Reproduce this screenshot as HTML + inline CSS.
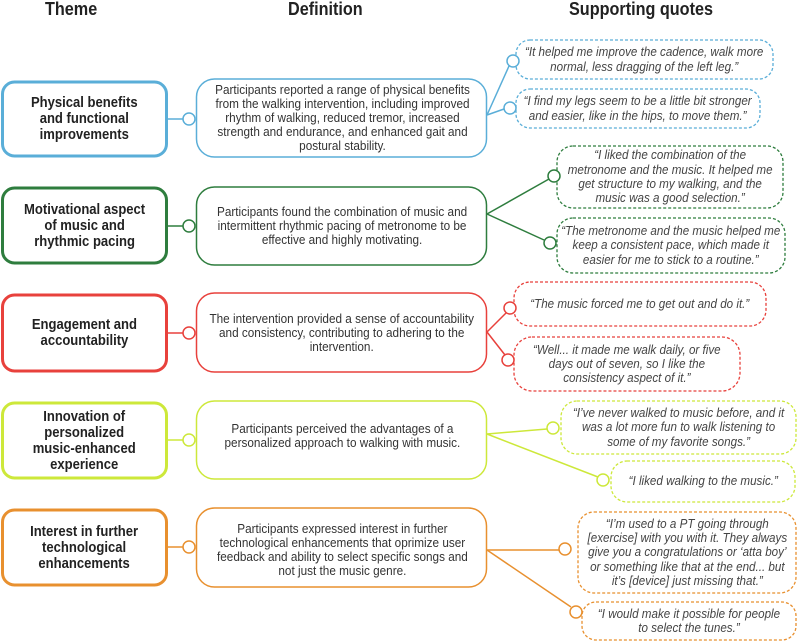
<!DOCTYPE html>
<html><head><meta charset="utf-8"><style>
html,body{margin:0;padding:0;background:#fff;}
body{width:800px;height:642px;position:relative;overflow:hidden;font-family:"Liberation Sans",Arial,sans-serif;}
.b{position:absolute;display:flex;align-items:center;justify-content:center;text-align:center;box-sizing:border-box;}
.b span{display:inline-block;white-space:nowrap;}
.t span{font-weight:bold;font-size:15px;line-height:16px;color:#222;transform:scaleX(.87);}
.d span{font-size:12.5px;line-height:14px;color:#333;transform:scaleX(.94);}
.q span{font-size:12.5px;line-height:14.3px;color:#444;font-style:italic;transform:scaleX(.93);}
.h{position:absolute;font-weight:bold;font-size:18px;color:#222;top:-1px;transform:scaleX(.9);transform-origin:left;}
</style></head><body>
<svg width="800" height="642" style="position:absolute;left:0;top:0">
<g fill="#fff">
<g stroke="#5aaed8">
<rect x="2.5" y="82" width="164" height="74" rx="12" stroke-width="3"/>
<rect x="196.5" y="79" width="290" height="78" rx="18" stroke-width="1.5"/>
<line x1="168" y1="119" x2="183" y2="119" stroke-width="1.5"/>
<polyline points="487,115 509,66" fill="none" stroke-width="1.5"/>
<polyline points="487,115 504,109" fill="none" stroke-width="1.5"/>
<rect x="516" y="40" width="257" height="39" rx="14" stroke-width="1.3" stroke-dasharray="3,2"/>
<rect x="516" y="89" width="244" height="39" rx="14" stroke-width="1.3" stroke-dasharray="3,2"/>
<circle cx="189" cy="119" r="6" stroke-width="1.5"/>
<circle cx="513" cy="61" r="6" stroke-width="1.5"/>
<circle cx="510" cy="108" r="6" stroke-width="1.5"/>
</g>
<g stroke="#2e7d3e">
<rect x="2.5" y="188" width="164" height="75" rx="12" stroke-width="3"/>
<rect x="196.5" y="187" width="290" height="78" rx="18" stroke-width="1.5"/>
<line x1="168" y1="226" x2="183" y2="226" stroke-width="1.5"/>
<line x1="487" y1="214" x2="549" y2="179" stroke-width="1.5"/>
<line x1="487" y1="214" x2="544" y2="240" stroke-width="1.5"/>
<rect x="557" y="146" width="226" height="62" rx="16" stroke-width="1.3" stroke-dasharray="3,2"/>
<rect x="557" y="218" width="228" height="55" rx="16" stroke-width="1.3" stroke-dasharray="3,2"/>
<circle cx="189" cy="226" r="6" stroke-width="1.5"/>
<circle cx="554" cy="176" r="6" stroke-width="1.5"/>
<circle cx="550" cy="243" r="6" stroke-width="1.5"/>
</g>
<g stroke="#e8413c">
<rect x="2.5" y="295" width="164" height="76" rx="12" stroke-width="3"/>
<rect x="196.5" y="293" width="290" height="79" rx="18" stroke-width="1.5"/>
<line x1="168" y1="333" x2="183" y2="333" stroke-width="1.5"/>
<line x1="487" y1="332" x2="506" y2="313" stroke-width="1.5"/>
<line x1="487" y1="332" x2="505" y2="355" stroke-width="1.5"/>
<rect x="514" y="282" width="252" height="44" rx="16" stroke-width="1.3" stroke-dasharray="3,2"/>
<rect x="514" y="337" width="226" height="54" rx="18" stroke-width="1.3" stroke-dasharray="3,2"/>
<circle cx="189" cy="333" r="6" stroke-width="1.5"/>
<circle cx="510" cy="308" r="6" stroke-width="1.5"/>
<circle cx="508" cy="360" r="6" stroke-width="1.5"/>
</g>
<g stroke="#cde83a">
<rect x="2.5" y="403" width="164" height="75" rx="12" stroke-width="3"/>
<rect x="196.5" y="401" width="290" height="78" rx="18" stroke-width="1.5"/>
<line x1="168" y1="440" x2="183" y2="440" stroke-width="1.5"/>
<line x1="487" y1="434" x2="547" y2="429" stroke-width="1.5"/>
<line x1="487" y1="434" x2="598" y2="477" stroke-width="1.5"/>
<rect x="561" y="401" width="235" height="53" rx="16" stroke-width="1.3" stroke-dasharray="3,2"/>
<rect x="611" y="461" width="184" height="41" rx="16" stroke-width="1.3" stroke-dasharray="3,2"/>
<circle cx="189" cy="440" r="6" stroke-width="1.5"/>
<circle cx="553" cy="428" r="6" stroke-width="1.5"/>
<circle cx="603" cy="480" r="6" stroke-width="1.5"/>
</g>
<g stroke="#e8902f">
<rect x="2.5" y="510" width="164" height="75" rx="12" stroke-width="3"/>
<rect x="196.5" y="508" width="290" height="79" rx="18" stroke-width="1.5"/>
<line x1="168" y1="547" x2="183" y2="547" stroke-width="1.5"/>
<line x1="487" y1="550" x2="559" y2="550" stroke-width="1.5"/>
<line x1="487" y1="550" x2="571" y2="607" stroke-width="1.5"/>
<rect x="578" y="512" width="218" height="81" rx="16" stroke-width="1.3" stroke-dasharray="3,2"/>
<rect x="582" y="602" width="214" height="38" rx="14" stroke-width="1.3" stroke-dasharray="3,2"/>
<circle cx="189" cy="547" r="6" stroke-width="1.5"/>
<circle cx="565" cy="549" r="6" stroke-width="1.5"/>
<circle cx="576" cy="612" r="6" stroke-width="1.5"/>
</g>
</g>
</svg>
<div class="h" style="left:45px">Theme</div>
<div class="h" style="left:288px">Definition</div>
<div class="h" style="left:569px">Supporting quotes</div>

<div class="b t" style="left:2px;top:82px;width:165px;height:74px"><span>Physical benefits<br>and functional<br>improvements</span></div>
<div class="b t" style="left:2px;top:188px;width:165px;height:75px"><span>Motivational aspect<br>of music and<br>rhythmic pacing</span></div>
<div class="b t" style="left:2px;top:295px;width:165px;height:76px"><span>Engagement and<br>accountability</span></div>
<div class="b t" style="left:2px;top:403px;width:165px;height:75px"><span>Innovation of<br>personalized<br>music-enhanced<br>experience</span></div>
<div class="b t" style="left:2px;top:510px;width:165px;height:75px"><span>Interest in further<br>technological<br>enhancements</span></div>

<div class="b d" style="left:197px;top:79px;width:290px;height:78px"><span>Participants reported a range of physical benefits<br>from the walking intervention, including improved<br>rhythm of walking, reduced tremor, increased<br>strength and endurance, and enhanced gait and<br>postural stability.</span></div>
<div class="b d" style="left:197px;top:187px;width:290px;height:78px"><span>Participants found the combination of music and<br>intermittent rhythmic pacing of metronome to be<br>effective and highly motivating.</span></div>
<div class="b d" style="left:197px;top:293px;width:290px;height:79px"><span>The intervention provided a sense of accountability<br>and consistency, contributing to adhering to the<br>intervention.</span></div>
<div class="b d" style="left:197px;top:401px;width:290px;height:70px"><span>Participants perceived the advantages of a<br>personalized approach to walking with music.</span></div>
<div class="b d" style="left:197px;top:508px;width:290px;height:83px"><span>Participants expressed interest in further<br>technological enhancements that oprimize user<br>feedback and ability to select specific songs and<br>not just the music genre.</span></div>

<div class="b q" style="left:516px;top:40px;width:257px;height:39px"><span>“It helped me improve the cadence, walk more<br>normal, less dragging of the left leg.”</span></div>
<div class="b q" style="left:516px;top:89px;width:244px;height:39px"><span>“I find my legs seem to be a little bit stronger<br>and easier, like in the hips, to move them.”</span></div>
<div class="b q" style="left:557px;top:146px;width:226px;height:62px"><span>“I liked the combination of the<br>metronome and the music. It helped me<br>get structure to my walking, and the<br>music was a good selection.”</span></div>
<div class="b q" style="left:557px;top:218px;width:228px;height:55px"><span>“The metronome and the music helped me<br>keep a consistent pace, which made it<br>easier for me to stick to a routine.”</span></div>
<div class="b q" style="left:514px;top:282px;width:252px;height:44px"><span>“The music forced me to get out and do it.”</span></div>
<div class="b q" style="left:514px;top:337px;width:226px;height:54px"><span>“Well... it made me walk daily, or five<br>days out of seven, so I like the<br>consistency aspect of it.”</span></div>
<div class="b q" style="left:561px;top:401px;width:235px;height:53px"><span>“I’ve never walked to music before, and it<br>was a lot more fun to walk listening to<br>some of my favorite songs.”</span></div>
<div class="b q" style="left:611px;top:461px;width:184px;height:41px"><span>“I liked walking to the music.”</span></div>
<div class="b q" style="left:578px;top:512px;width:218px;height:81px"><span>“I’m used to a PT going through<br>[exercise] with you with it. They always<br>give you a congratulations or ‘atta boy’<br>or something like that at the end... but<br>it’s [device] just missing that.”</span></div>
<div class="b q" style="left:582px;top:602px;width:214px;height:38px"><span>“I would make it possible for people<br>to select the tunes.”</span></div>
</body></html>
